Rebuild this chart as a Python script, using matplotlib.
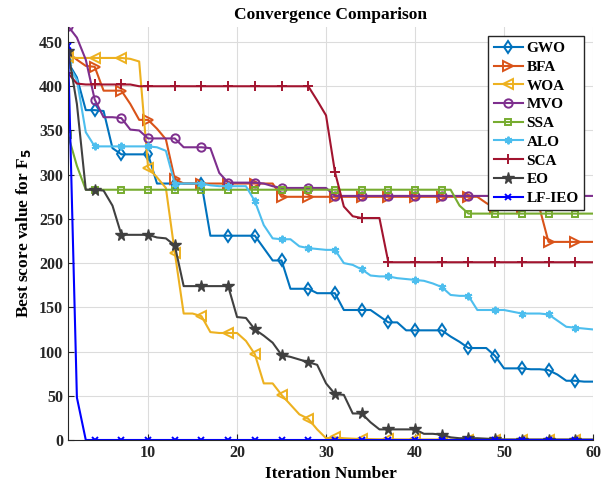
import matplotlib
matplotlib.use("Agg")
import matplotlib.pyplot as plt
import numpy as np

iterations = list(range(1, 61))

gwo = [427, 410, 373, 373, 372, 330, 323, 323, 323, 323,
       290, 290, 290, 290, 290, 290, 231, 231, 231, 231,
       231, 231, 217, 203, 203, 171, 171, 171, 166, 166,
       166, 147, 147, 147, 147, 140, 133, 133, 124, 124,
       124, 124, 124, 117, 111, 104, 104, 104, 95, 81,
       81, 81, 80, 80, 79, 74, 67, 67, 66, 66]
bfa = [438, 430, 423, 422, 395, 395, 395, 380, 362, 362,
       352, 340, 295, 290, 290, 290, 290, 290, 290, 290,
       290, 290, 290, 290, 275, 275, 275, 275, 275, 275,
       275, 275, 275, 275, 275, 275, 275, 275, 275, 275,
       275, 275, 275, 275, 275, 275, 275, 268, 262, 262,
       262, 262, 262, 262, 224, 224, 224, 224, 224, 224]
woa = [433, 432, 432, 432, 432, 432, 432, 431, 428, 308,
       297, 285, 212, 143, 143, 140, 122, 121, 121, 121,
       112, 97, 64, 64, 51, 40, 29, 24, 12, 2,
       3, 2, 1.5, 1, 1, 0.8, 0.8, 0.7, 0.7, 0.6,
       0.6, 0.6, 0.5, 0.5, 0.5, 0.5, 0.5, 0.4, 0.4, 0.4,
       0.4, 0.4, 0.3, 0.3, 0.3, 0.3, 0.3, 0.3, 0.3, 0.3]
mvo = [468, 455, 430, 385, 365, 365, 364, 351, 350, 341,
       341, 341, 341, 331, 331, 331, 330, 302, 291, 291,
       291, 291, 290, 287, 285, 285, 285, 285, 285, 285,
       276, 276, 276, 276, 276, 276, 276, 276, 276, 276,
       276, 276, 276, 276, 276, 276, 276, 276, 276, 276,
       276, 276, 276, 276, 276, 276, 276, 276, 276, 276]
ssa = [345, 310, 283, 283, 283, 283, 283, 283, 283, 283,
       283, 283, 283, 283, 283, 283, 283, 283, 283, 283,
       283, 283, 283, 283, 283, 283, 283, 283, 283, 283,
       283, 283, 283, 283, 283, 283, 283, 283, 283, 283,
       283, 283, 283, 283, 265, 256, 256, 256, 256, 256,
       256, 256, 256, 256, 256, 256, 256, 256, 256, 256]
alo = [425, 407, 348, 332, 332, 332, 332, 332, 332, 332,
       331, 327, 290, 290, 290, 290, 288, 287, 287, 287,
       287, 270, 243, 228, 227, 227, 219, 217, 216, 215,
       215, 200, 198, 193, 186, 185, 185, 183, 182, 181,
       180, 177, 173, 164, 163, 163, 147, 147, 147, 147,
       145, 143, 143, 143, 142, 135, 128, 127, 126, 125]
sca = [415, 403, 402, 402, 402, 402, 402, 402, 400, 400,
       400, 400, 400, 400, 400, 400, 400, 400, 400, 400,
       400, 400, 400, 400, 400, 400, 400, 400, 384, 367,
       303, 264, 253, 251, 251, 251, 201, 201, 201, 201,
       201, 201, 201, 201, 201, 201, 201, 201, 201, 201,
       201, 201, 201, 201, 201, 201, 201, 201, 201, 201]
eo = [440, 380, 283, 283, 282, 265, 232, 232, 232, 232,
      229, 228, 220, 174, 174, 174, 174, 174, 174, 139,
      138, 125, 118, 110, 96, 94, 91, 88, 85, 64,
      52, 51, 30, 30, 20, 12, 12, 12, 12, 12,
      7, 7, 6, 3, 2, 2, 2, 1.5, 1, 0.5,
      0.5, 0.5, 0.5, 0.5, 0.5, 0.5, 0.5, 0.5, 0.5, 0.5]
lfieo = [445, 48] + [0] * 58

names = ["GWO", "BFA", "WOA", "MVO", "SSA", "ALO", "SCA", "EO", "LF-IEO"]
series = [gwo, bfa, woa, mvo, ssa, alo, sca, eo, lfieo]
colors = ["#0072BD", "#D95319", "#EDB120", "#7E2F8E", "#77AC30",
          "#4DBEEE", "#A2142F", "#404040", "#0000FF"]
markers = ["d", ">", "<", "o", "s", (6, 2, 0), "+", "*", "x"]
msizes = [6, 6.5, 6.5, 6, 5, 5.5, 6.5, 8.5, 4]
filled = [False, False, False, False, False, True, True, True, True]

plt.rcParams['font.family'] = ['Liberation Serif', 'DejaVu Serif']
fig = plt.figure(figsize=(6.05, 4.86), dpi=100)
ax = fig.add_axes([68/605, 1-440/486, (593-68)/605, (440-27)/486])

for y, n, c, m, ms, f in zip(series, names, colors, markers, msizes, filled):
    ax.plot(iterations, y, color=c, lw=1.5, marker=m, markersize=ms,
            markevery=list(range(0, 60, 3)),
            markerfacecolor=(c if f else 'none'), markeredgecolor=c,
            markeredgewidth=1.4 if m != '*' else 1.0, label=n)

ax.set_xlim(1, 60)
ax.set_ylim(0, 467)
ax.set_xticks([10, 20, 30, 40, 50, 60])
ax.set_yticks(np.arange(0, 451, 50))
ax.grid(True, color='#dcdcdc', lw=0.8)
ax.set_axisbelow(True)
for s in ['top', 'right']:
    ax.spines[s].set_visible(False)
for s in ['left', 'bottom']:
    ax.spines[s].set_color('#262626')
    ax.spines[s].set_linewidth(0.8)
ax.tick_params(direction='in', length=4, labelsize=11.5, colors='#262626')
for lab in ax.get_xticklabels() + ax.get_yticklabels():
    lab.set_fontweight('bold')

ax.set_title("Convergence Comparison", fontsize=12.5, fontweight='bold', pad=6)
ax.set_xlabel("Iteration Number", fontsize=12.5, fontweight='bold', labelpad=4)
ax.set_ylabel("Best score value for F$_\\mathbf{5}$", fontsize=12.5, fontweight='bold')

leg = ax.legend(loc='upper right', bbox_to_anchor=(0.983, 0.978),
                prop={'weight': 'bold', 'size': 11}, frameon=True, fancybox=False,
                handlelength=1.9, borderpad=0.35, labelspacing=0.33, handletextpad=0.25,
                borderaxespad=0.0)
leg.get_frame().set_edgecolor('#262626')
leg.get_frame().set_linewidth(1.0)
leg.get_frame().set_alpha(1)

fig.savefig("out.png", dpi=100)
